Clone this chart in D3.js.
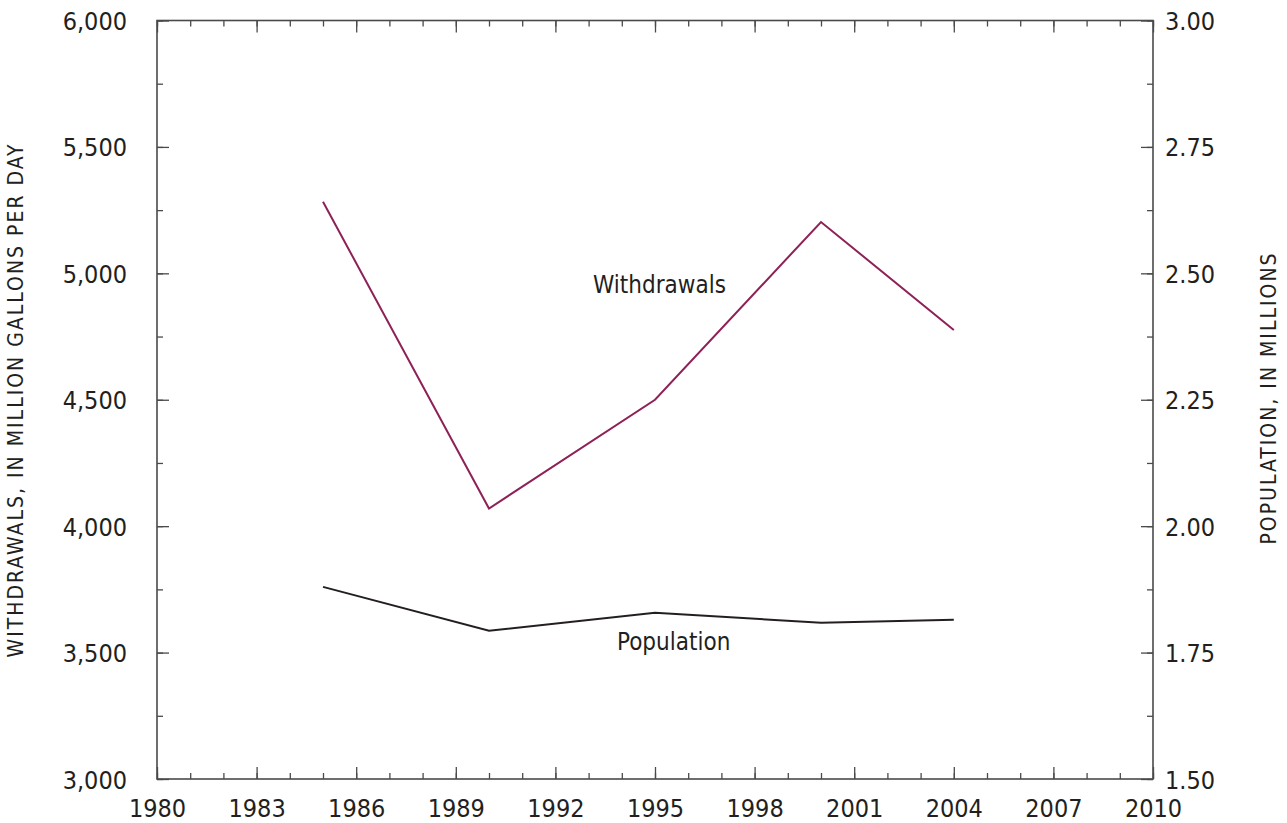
<!DOCTYPE html>
<html>
<head>
<meta charset="utf-8">
<script src="https://cdn.jsdelivr.net/npm/d3@7"></script>
<style>
  body { margin: 0; background: #fff; }
  svg text { font-family: "Liberation Sans Narrow", "DejaVu Sans Condensed", sans-serif; fill: #231f20; }
</style>
</head>
<body>
<svg id="chart" width="1287" height="823"></svg>
<script>
const years = [1985, 1990, 1995, 2000, 2004];
const withdrawals = [5283, 4070, 4500, 5203, 4776];
const population = [1.880, 1.793, 1.829, 1.809, 1.815];

const xTicks = [1980, 1983, 1986, 1989, 1992, 1995, 1998, 2001, 2004, 2007, 2010];
const leftTicks = [3000, 3500, 4000, 4500, 5000, 5500, 6000];
const rightTicks = [1.50, 1.75, 2.00, 2.25, 2.50, 2.75, 3.00];

const svg = d3.select("#chart");
const plotLeft = 157, plotRight = 1153, plotTop = 20.5, plotBottom = 779;

const x = d3.scaleLinear().domain([1980, 2010]).range([plotLeft, plotRight]);
const yL = d3.scaleLinear().domain([3000, 6000]).range([plotBottom, plotTop]);
const yR = d3.scaleLinear().domain([1.5, 3.0]).range([plotBottom, plotTop]);

const axisColor = "#4a4a4a";

function styleAxis(g) {
  g.select(".domain").remove();
  g.selectAll(".tick line").attr("stroke", axisColor).attr("stroke-width", 1.3);
}

// minor ticks, every year / every quarter step
const minorYears = d3.range(1980, 2011);
const minorLeft = d3.range(3000, 6001, 250);
const minorRight = d3.range(1.5, 3.001, 0.125);

svg.append("g").attr("transform", `translate(0,${plotBottom})`)
  .call(d3.axisBottom(x).tickValues(minorYears).tickSize(-6).tickFormat(""))
  .call(styleAxis);
svg.append("g").attr("transform", `translate(0,${plotTop})`)
  .call(d3.axisTop(x).tickValues(minorYears).tickSize(-6).tickFormat(""))
  .call(styleAxis);
svg.append("g").attr("transform", `translate(${plotLeft},0)`)
  .call(d3.axisLeft(yL).tickValues(minorLeft).tickSize(-6).tickFormat(""))
  .call(styleAxis);
svg.append("g").attr("transform", `translate(${plotRight},0)`)
  .call(d3.axisRight(yR).tickValues(minorRight).tickSize(-6).tickFormat(""))
  .call(styleAxis);

// major ticks with labels
svg.append("g").attr("transform", `translate(0,${plotBottom})`)
  .call(d3.axisBottom(x).tickValues(xTicks).tickSize(-12).tickFormat(d3.format("d")))
  .call(styleAxis)
  .call(g => g.selectAll("text").attr("y", 38).attr("dy", null)
    .style("font-size", "25px").attr("fill", "#231f20"));
svg.append("g").attr("transform", `translate(0,${plotTop})`)
  .call(d3.axisTop(x).tickValues(xTicks).tickSize(-12).tickFormat(""))
  .call(styleAxis);
svg.append("g").attr("transform", `translate(${plotLeft},0)`)
  .call(d3.axisLeft(yL).tickValues(leftTicks).tickSize(-12).tickFormat(d3.format(",")))
  .call(styleAxis)
  .call(g => g.selectAll("text").attr("x", -30).attr("dy", "0.36em")
    .style("font-size", "25px").attr("fill", "#231f20"));
svg.append("g").attr("transform", `translate(${plotRight},0)`)
  .call(d3.axisRight(yR).tickValues(rightTicks).tickSize(-12).tickFormat(d3.format(".2f")))
  .call(styleAxis)
  .call(g => g.selectAll("text").attr("x", 12).attr("dy", "0.36em")
    .style("font-size", "25px").attr("fill", "#231f20"));

// frame
svg.append("rect")
  .attr("x", plotLeft).attr("y", plotTop)
  .attr("width", plotRight - plotLeft).attr("height", plotBottom - plotTop)
  .attr("fill", "none").attr("stroke", axisColor).attr("stroke-width", 1.6);

// lines
const wLine = d3.line().x((d, i) => x(years[i])).y(d => yL(d));
const pLine = d3.line().x((d, i) => x(years[i])).y(d => yR(d));

svg.append("path").datum(withdrawals)
  .attr("d", wLine).attr("fill", "none")
  .attr("stroke", "#8e2157").attr("stroke-width", 2);
svg.append("path").datum(population)
  .attr("d", pLine).attr("fill", "none")
  .attr("stroke", "#231f20").attr("stroke-width", 2);

// series labels
svg.append("text").attr("x", 593).attr("y", 293)
  .style("font-size", "24px").text("Withdrawals");
svg.append("text").attr("x", 617).attr("y", 650)
  .style("font-size", "24px").text("Population");

// axis titles
svg.append("text")
  .attr("transform", "translate(23,400) rotate(-90)")
  .attr("text-anchor", "middle")
  .style("font-size", "21px").style("letter-spacing", "2px")
  .text("WITHDRAWALS, IN MILLION GALLONS PER DAY");
svg.append("text")
  .attr("transform", "translate(1276,398) rotate(-90)")
  .attr("text-anchor", "middle")
  .style("font-size", "21px").style("letter-spacing", "2px")
  .text("POPULATION, IN MILLIONS");
</script>
</body>
</html>
